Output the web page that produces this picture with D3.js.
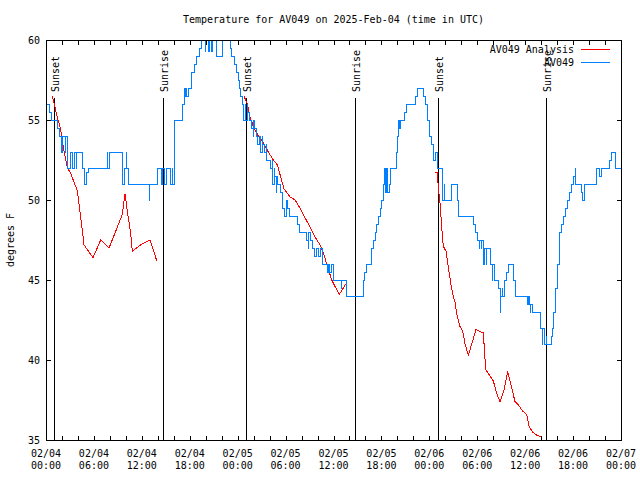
<!DOCTYPE html>
<html><head><meta charset="utf-8">
<script src="https://cdn.jsdelivr.net/npm/d3@7"></script>
<style>
body{margin:0;background:#fff}
text{font-family:"DejaVu Sans Mono",monospace;font-size:10px;fill:#000}
</style>
</head><body><svg id="c" width="640" height="480"></svg>
<script>
const chartTitle = "Temperature for AV049 on 2025-Feb-04 (time in UTC)";
const yAxisLabel = "degrees F";
const seriesNames = ["AV049 Analysis", "AV049"];
const seriesColors = ["#ff0000", "#0080ff"];
const yTickValues = [35, 40, 45, 50, 55, 60];
const startDay = [2025, 1, 4];   // 2025-02-04 00:00 UTC
const spanHours = 72;
const sunEvents = ["Sunset", "Sunrise", "Sunset", "Sunrise", "Sunset", "Sunrise"];
const sunHours = [1.04, 14.69, 25.08, 38.73, 49.03, 62.65];

// station observations: [hours since start, degF]
const station = [[0.00,56],[0.38,55.5],[0.75,55],[1.50,54.5],[1.69,54],[1.88,53],[2.07,54],[2.38,53],[2.50,54],[2.63,52],[3.13,53],[3.26,52],[3.63,53],[3.76,52],[3.88,53],[4.51,52.5],[4.63,52],[4.88,51],[5.01,51.7],[5.26,52],[7.64,53],[7.76,52],[8.01,53],[9.52,51],[9.77,52],[10.02,53],[10.14,52],[10.27,51],[12.90,50],[13.02,51],[14.02,52],[14.52,51],[14.65,52],[14.78,51],[15.03,52],[15.53,51],[15.78,52],[15.90,51],[16.03,53.5],[16.15,55],[17.15,56],[17.28,57],[17.40,56.5],[17.53,57],[17.65,56.5],[17.90,57],[18.28,58],[18.65,58.5],[18.90,59],[19.16,59.5],[19.41,60],[19.91,59.3],[20.03,60],[20.41,59.3],[20.53,60],[20.78,59.3],[20.91,60],[21.37,59],[22.16,60],[23.04,59.5],[23.29,59],[23.66,58.5],[23.91,58],[24.16,57.5],[24.29,57],[24.41,56.5],[24.66,56],[24.79,55],[24.92,56],[25.04,55],[25.17,56],[25.29,55.5],[25.42,55],[25.79,54.5],[25.92,54],[26.04,55],[26.17,54.5],[26.42,54],[26.54,53.5],[26.79,54],[26.92,53],[27.05,54],[27.17,53.5],[27.42,53],[27.55,53.5],[27.67,52.5],[28.05,52],[28.30,52.5],[28.42,51],[28.55,52],[28.67,51.5],[28.80,50.5],[28.92,51.5],[29.05,51],[29.42,50.5],[29.67,49.5],[29.92,49],[30.17,50],[30.30,49.5],[30.55,49],[31.55,48.5],[31.68,48],[32.68,47.5],[32.81,47],[32.93,48],[33.06,47.5],[33.31,47],[33.68,46.5],[33.93,47],[34.06,46.5],[34.31,47],[34.56,46],[35.31,45.5],[35.43,46],[35.56,45.5],[35.81,46],[35.94,45.5],[36.06,45],[36.94,44.5],[37.06,45],[37.69,44],[39.76,45],[39.94,45.5],[40.19,46],[40.82,47],[41.07,47.5],[41.32,48],[41.44,48.5],[41.69,49],[41.94,49.5],[42.07,50],[42.32,51],[42.44,52],[42.57,50.5],[42.69,52],[42.82,50.5],[43.07,51],[43.19,52],[43.95,53],[44.07,54],[44.20,55],[44.32,54.5],[44.45,55],[44.95,55.5],[45.20,56],[46.33,56.5],[46.58,57],[47.33,56.5],[47.46,56],[47.71,55.5],[47.83,55],[47.96,54.5],[48.08,54],[48.33,53.5],[48.46,53],[48.58,52.5],[48.71,53],[48.96,52],[49.59,51.5],[49.71,50],[49.84,51],[49.96,50],[50.80,51],[51.53,50],[51.65,49],[53.47,48.5],[53.84,48],[54.09,47.5],[54.22,47],[54.34,47.5],[54.47,47],[54.59,47.5],[54.72,46.5],[54.84,46],[54.97,47],[55.10,46],[55.22,47],[55.72,46],[55.85,45],[55.97,46],[56.10,45.5],[56.22,45],[56.72,44.5],[56.85,43],[56.97,44],[57.10,44.5],[57.22,44],[57.35,45],[57.72,45.5],[57.97,46],[58.60,45],[58.73,44.5],[58.85,44],[60.23,43.5],[60.36,44],[60.48,43.5],[60.61,43],[60.73,43.5],[60.86,43],[61.98,42],[62.11,41],[62.23,42],[62.36,41.5],[62.48,41],[62.61,41.5],[62.73,41],[63.24,41.5],[63.36,42],[63.49,42.5],[63.61,43],[63.74,43.5],[63.86,44.5],[63.99,45],[64.11,46],[64.24,47],[64.36,48],[64.49,48.5],[64.74,49],[64.99,49.5],[65.24,50],[65.61,50.5],[65.86,51],[66.11,51.5],[66.24,52],[66.36,51],[67.11,50.5],[67.24,50],[67.37,50.5],[67.49,51],[68.93,52],[69.37,51.5],[69.50,52],[70.56,52.5],[70.75,53],[71.25,52],[72.00,52]];

// analysis, three night segments: [hours since start, degF]
const analysisNight1 = [[0.79,56.5],[1.41,55.2],[1.84,54.4],[2.17,53.3],[2.47,52.5],[2.67,52.0],[3.09,51.7],[3.51,51.1],[3.92,50.6],[4.35,48.9],[4.76,47.2],[5.17,46.9],[5.89,46.4],[6.85,47.5],[7.89,47.0],[8.93,48.3],[9.55,49.1],[9.89,50.4],[10.18,49.3],[10.61,47.9],[10.81,46.8],[11.86,47.2],[13.02,47.5],[13.44,46.9],[13.86,46.2]];
const analysisNight2 = [[24.79,56.5],[25.21,56.0],[25.55,55.2],[25.96,54.6],[26.58,54.0],[27.21,53.6],[27.84,53.0],[28.46,52.5],[28.96,52.2],[29.30,51.6],[29.80,50.7],[30.55,50.2],[31.18,50.0],[31.81,49.5],[32.43,48.9],[33.06,48.3],[33.68,47.7],[34.31,47.2],[34.72,46.7],[35.22,45.9],[35.78,45.0],[36.19,44.6],[36.73,44.1],[37.23,44.5],[37.73,44.9]];
const analysisNight3 = [[48.71,51.7],[49.00,51.7],[49.12,50.8],[49.34,49.8],[49.55,48.3],[49.75,47.1],[50.09,46.8],[50.38,45.8],[50.68,44.8],[50.93,44.1],[51.22,43.6],[51.50,42.7],[51.84,42.1],[52.18,41.8],[52.47,41.0],[52.88,40.3],[53.31,41.0],[53.84,41.9],[54.26,41.8],[54.76,41.7],[55.06,39.4],[55.60,39.0],[56.01,38.7],[56.44,37.9],[56.85,37.4],[57.35,38.1],[57.81,39.3],[58.19,38.5],[58.73,37.4],[59.14,37.2],[59.69,36.8],[60.19,36.6],[60.52,35.8],[60.94,35.5],[61.44,35.3],[61.98,35.2]];

const t0 = Date.UTC(startDay[0], startDay[1], startDay[2]);
const toDate = h => new Date(t0 + h * 3600e3);
const crisp = v => Math.round(v) + 0.5;

const svg = d3.select("#c");
const L = 46, R = 621, T = 40, B = 440;
const x = d3.scaleUtc().domain([toDate(0), toDate(spanHours)]).range([L, R]);
const y = d3.scaleLinear().domain([35, 60]).range([B, T]);

svg.append("defs").append("clipPath").attr("id", "clip")
  .append("rect").attr("x", L).attr("y", T).attr("width", R - L + 1).attr("height", B - T + 1);

// title
svg.append("text").attr("x", (L + R) / 2).attr("y", 23).attr("text-anchor", "middle").text(chartTitle);
// y axis label
svg.append("text").attr("transform", `translate(14,${(T + B) / 2}) rotate(-90)`)
  .attr("text-anchor", "middle").text(yAxisLabel);

const g = svg.append("g");

// y ticks
yTickValues.forEach(v => {
  const yy = crisp(y(v));
  g.append("line").attr("x1", L).attr("x2", L + 5).attr("y1", yy).attr("y2", yy)
    .attr("stroke", "#000").attr("shape-rendering", "crispEdges");
  g.append("line").attr("x1", R + 1).attr("x2", R - 4).attr("y1", yy).attr("y2", yy)
    .attr("stroke", "#000").attr("shape-rendering", "crispEdges");
  g.append("text").attr("x", 40).attr("y", y(v)).attr("dy", "0.35em")
    .attr("text-anchor", "end").text(v);
});

// x ticks
x.ticks(d3.utcHour.every(2)).forEach(t => {
  const xx = crisp(x(t));
  g.append("line").attr("x1", xx).attr("x2", xx).attr("y1", B + 1).attr("y2", B - 4)
    .attr("stroke", "#000").attr("shape-rendering", "crispEdges");
  g.append("line").attr("x1", xx).attr("x2", xx).attr("y1", T).attr("y2", T + 5)
    .attr("stroke", "#000").attr("shape-rendering", "crispEdges");
});
const fDate = d3.utcFormat("%m/%d"), fTime = d3.utcFormat("%H:%M");
x.ticks(d3.utcHour.every(6)).forEach(t => {
  const tx = g.append("text").attr("text-anchor", "middle");
  tx.append("tspan").attr("x", x(t)).attr("y", 457).text(fDate(t));
  tx.append("tspan").attr("x", x(t)).attr("y", 469).text(fTime(t));
});

// sunrise / sunset lines
sunHours.forEach((h, i) => {
  const xx = crisp(x(toDate(h)));
  g.append("line").attr("x1", xx).attr("x2", xx).attr("y1", 98).attr("y2", B)
    .attr("stroke", "#000").attr("shape-rendering", "crispEdges");
  g.append("text").attr("transform", `translate(${xx + 4.5},92) rotate(-90)`)
    .attr("text-anchor", "start").text(sunEvents[i]);
});

// data
const dataG = svg.append("g").attr("clip-path", "url(#clip)");
const line = d3.line().x(d => x(toDate(d[0]))).y(d => y(d[1]));
[analysisNight1, analysisNight2, analysisNight3].forEach(seg => {
  dataG.append("path").datum(seg).attr("d", line).attr("fill", "none")
    .attr("stroke", seriesColors[0]).attr("stroke-width", 1).attr("shape-rendering", "crispEdges");
});
const stepLine = d3.line().curve(d3.curveStepAfter).x(d => x(toDate(d[0]))).y(d => y(d[1]));
dataG.append("path").datum(station).attr("d", stepLine).attr("fill", "none")
  .attr("stroke", seriesColors[1]).attr("stroke-width", 1).attr("shape-rendering", "crispEdges");

// frame
svg.append("rect").attr("x", L + 0.5).attr("y", T + 0.5).attr("width", R - L).attr("height", B - T)
  .attr("fill", "none").attr("stroke", "#000").attr("shape-rendering", "crispEdges");

// legend
seriesNames.forEach((n, i) => {
  const ly = 49.5 + i * 13;
  svg.append("text").attr("x", 574).attr("y", ly).attr("dy", "0.35em").attr("text-anchor", "end").text(n);
  svg.append("line").attr("x1", 581).attr("x2", 610).attr("y1", ly).attr("y2", ly)
    .attr("stroke", seriesColors[i]).attr("shape-rendering", "crispEdges");
});
</script></body></html>
